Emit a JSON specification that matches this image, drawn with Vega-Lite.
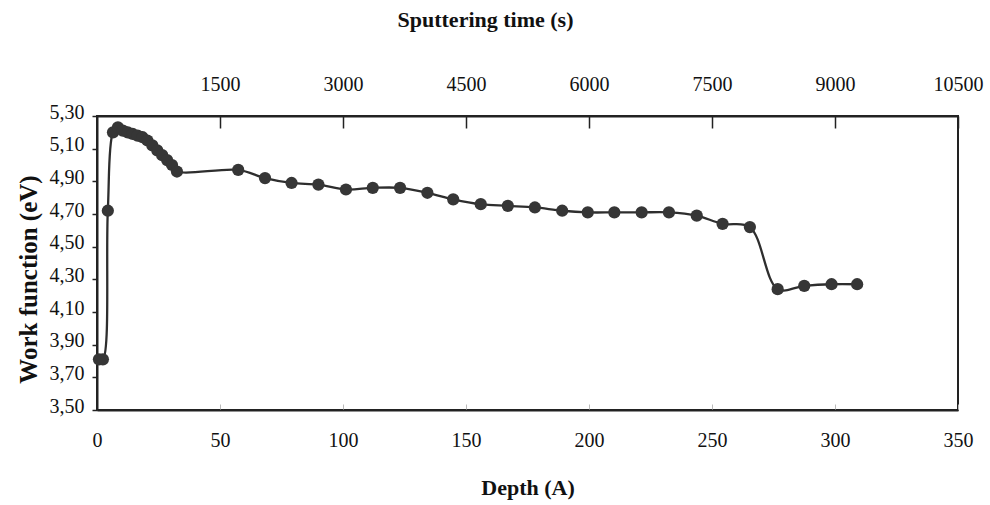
{
  "$schema": "https://vega.github.io/schema/vega-lite/v6.json",
  "autosize": "none",
  "width": 861,
  "height": 294,
  "padding": {"left": 97, "top": 116, "right": 32, "bottom": 95},
  "background": "white",
  "config": {
    "font": "Liberation Serif",
    "view": {"stroke": "#222", "strokeWidth": 2},
    "axis": {
      "labelFont": "Liberation Serif",
      "titleFont": "Liberation Serif",
      "labelFontSize": 20,
      "titleFontSize": 22,
      "titleFontWeight": "bold",
      "labelColor": "#111",
      "titleColor": "#111",
      "domainColor": "#222",
      "domainWidth": 2,
      "tickColor": "#222",
      "tickWidth": 1.5,
      "labelOverlap": false,
      "labelFlush": false,
      "grid": false
    }
  },
  "data": {
    "values": [
      {"depth": 0.8, "wf": 3.81},
      {"depth": 2.4, "wf": 3.81},
      {"depth": 4.4, "wf": 4.72},
      {"depth": 6.5, "wf": 5.20},
      {"depth": 8.5, "wf": 5.23},
      {"depth": 10.5, "wf": 5.21},
      {"depth": 12.5, "wf": 5.20},
      {"depth": 14.5, "wf": 5.19},
      {"depth": 16.5, "wf": 5.18},
      {"depth": 18.5, "wf": 5.17},
      {"depth": 20.5, "wf": 5.15},
      {"depth": 22.5, "wf": 5.12},
      {"depth": 24.5, "wf": 5.09},
      {"depth": 26.5, "wf": 5.06},
      {"depth": 28.5, "wf": 5.03},
      {"depth": 30.5, "wf": 5.00},
      {"depth": 32.5, "wf": 4.96},
      {"depth": 57.4, "wf": 4.97},
      {"depth": 68.3, "wf": 4.92},
      {"depth": 79.1, "wf": 4.89},
      {"depth": 90.0, "wf": 4.88},
      {"depth": 101.2, "wf": 4.85},
      {"depth": 112.1, "wf": 4.86},
      {"depth": 123.2, "wf": 4.86},
      {"depth": 134.3, "wf": 4.83},
      {"depth": 144.8, "wf": 4.79},
      {"depth": 156.0, "wf": 4.76},
      {"depth": 167.0, "wf": 4.75},
      {"depth": 178.0, "wf": 4.74},
      {"depth": 189.1, "wf": 4.72},
      {"depth": 199.5, "wf": 4.71},
      {"depth": 210.3, "wf": 4.71},
      {"depth": 221.4, "wf": 4.71},
      {"depth": 232.5, "wf": 4.71},
      {"depth": 243.8, "wf": 4.69},
      {"depth": 254.3, "wf": 4.64},
      {"depth": 265.4, "wf": 4.62},
      {"depth": 276.7, "wf": 4.24},
      {"depth": 287.5, "wf": 4.26},
      {"depth": 298.6, "wf": 4.27},
      {"depth": 309.0, "wf": 4.27}
    ]
  },
  "resolve": {"axis": {"x": "independent"}},
  "layer": [
    {
      "mark": {"type": "line", "interpolate": "catmull-rom", "color": "#2e2e2e", "strokeWidth": 2.3},
      "encoding": {
        "x": {
          "field": "depth", "type": "quantitative",
          "scale": {"domain": [0, 350], "nice": false, "zero": false},
          "axis": {
            "orient": "bottom", "title": "Depth (A)",
            "values": [0, 50, 100, 150, 200, 250, 300, 350],
            "tickCount": 20,
            "tickSize": -6, "tickColor": "#bbb", "tickWidth": 1,
            "labelPadding": 26, "titlePadding": 27
          }
        },
        "y": {
          "field": "wf", "type": "quantitative",
          "scale": {"domain": [3.5, 5.3], "nice": false, "zero": false},
          "axis": {
            "title": "Work function (eV)",
            "titleFontSize": 25,
            "titleY": 163,
            "titleAlign": "center",
            "values": [3.5, 3.7, 3.9, 4.1, 4.3, 4.5, 4.7, 4.9, 5.1, 5.3],
            "tickCount": 20,
            "labelExpr": "replace(format(datum.value, '.2f'), '.', ',')",
            "tickSize": 5, "labelPadding": 8, "labelOffset": -4,
            "titlePadding": 8
          }
        }
      }
    },
    {
      "mark": {"type": "point", "filled": true, "color": "#363636", "opacity": 1, "size": 150},
      "encoding": {
        "x": {
          "field": "depth", "type": "quantitative",
          "scale": {"domain": [0, 350], "nice": false, "zero": false},
          "axis": {
            "orient": "top", "title": "Sputtering time (s)",
            "values": [50, 100, 150, 200, 250, 300, 350],
            "tickCount": 20,
            "labelExpr": "format(datum.value * 30, 'd')",
            "tickSize": -12, "labelPadding": 34, "titlePadding": 43,
            "titleX": 388, "titleAlign": "center"
          }
        },
        "y": {"field": "wf", "type": "quantitative"}
      }
    }
  ]
}
